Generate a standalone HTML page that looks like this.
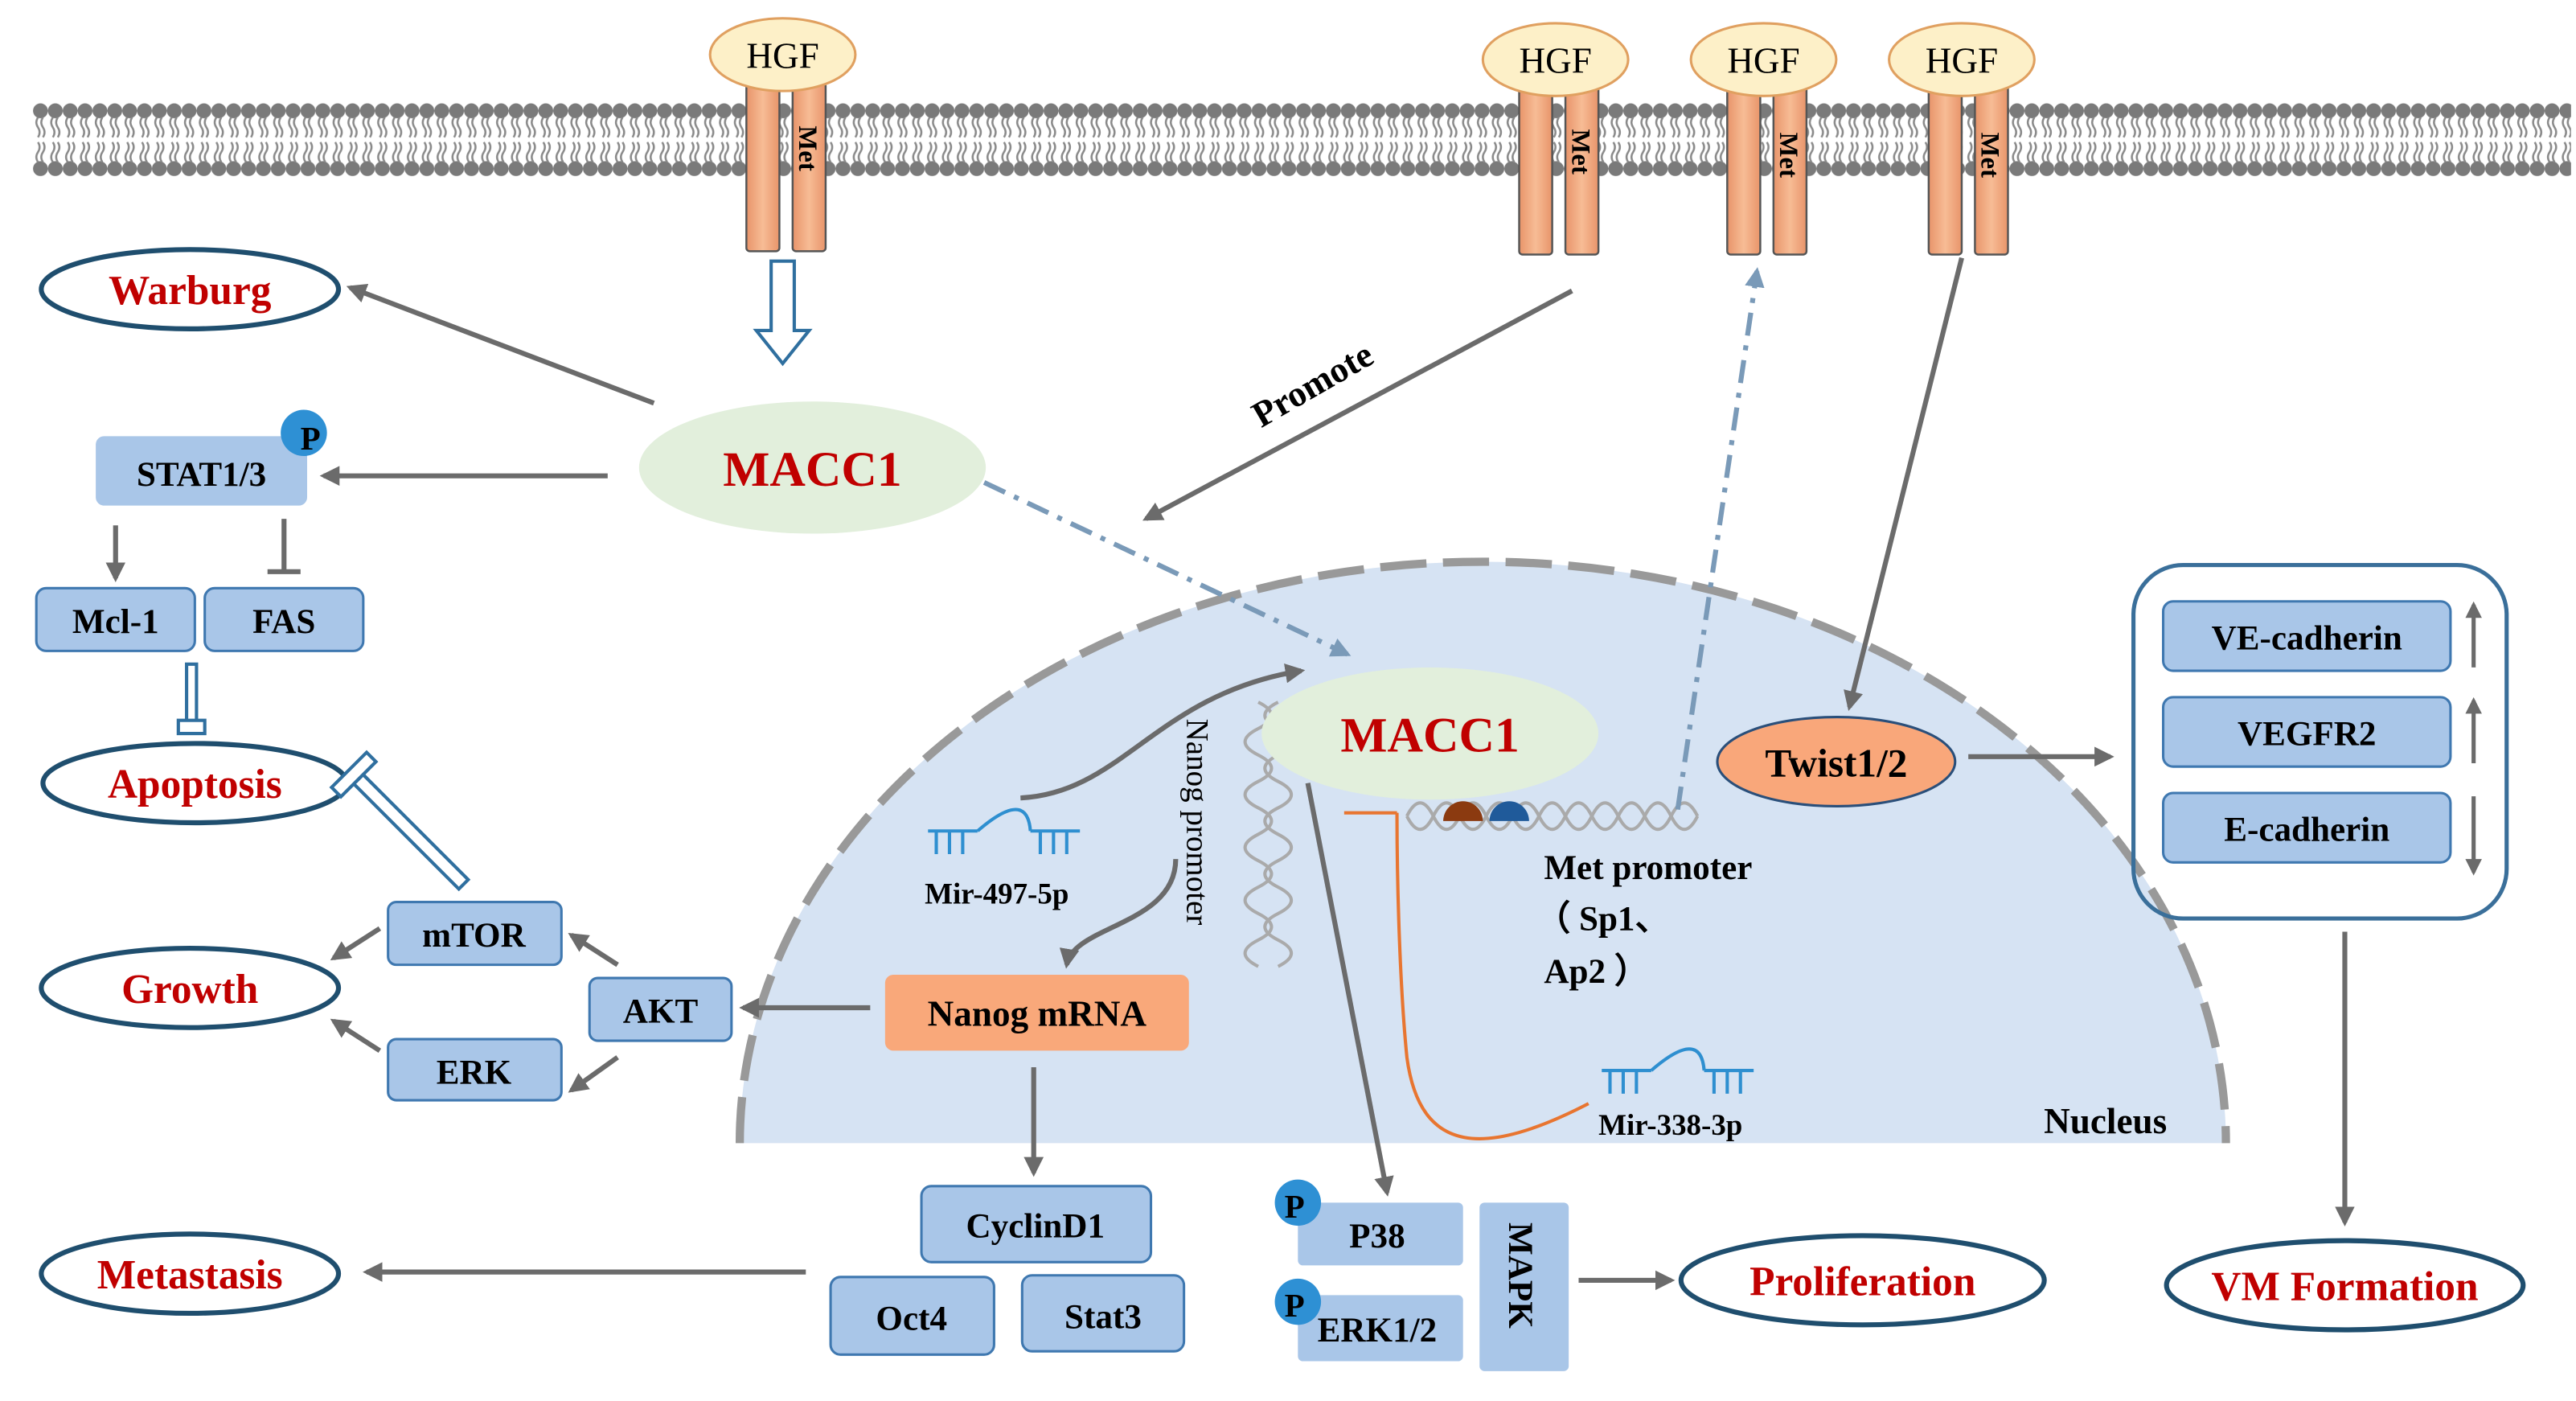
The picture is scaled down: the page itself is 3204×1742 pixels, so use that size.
<!DOCTYPE html>
<html><head><meta charset="utf-8"><style>html,body{margin:0;padding:0;background:#fff}svg{display:block}
text{font-family:"Liberation Serif",serif;font-weight:bold}</style></head><body>
<svg width="3204" height="1742" viewBox="0 0 1560 848" xmlns="http://www.w3.org/2000/svg">
<defs>
<marker id="a" viewBox="0 0 10 10" refX="8" refY="5" markerWidth="4" markerHeight="4" orient="auto"><path d="M0,0L10,5L0,10z" fill="#6b6b6b"/></marker>
<marker id="ab" viewBox="0 0 10 10" refX="8" refY="5" markerWidth="4" markerHeight="4" orient="auto"><path d="M0,0L10,5L0,10z" fill="#7a9ab8"/></marker>
<pattern id="lip" x="20" y="60" width="9" height="50" patternUnits="userSpaceOnUse">
<circle cx="4.5" cy="7" r="4.5" fill="#7a7a7a"/>
<circle cx="4.5" cy="42" r="4.5" fill="#7a7a7a"/>
<path d="M3,11 q-2,3 0,6 q2,3 0,6 M6,11 q-2,3 0,6 q2,3 0,6 M3,38 q-2,-3 0,-6 q2,-3 0,-6 M6,38 q-2,-3 0,-6 q2,-3 0,-6" stroke="#8a8a8a" stroke-width="1.2" fill="none"/>
</pattern>
<linearGradient id="met" x1="0" x2="1"><stop offset="0" stop-color="#e8946a"/><stop offset="0.5" stop-color="#f7bc95"/><stop offset="1" stop-color="#e8946a"/></linearGradient>
</defs>
<!-- membrane -->
<rect x="20" y="60" width="1537" height="50" fill="url(#lip)"/>
<!-- receptors -->
<g stroke="#555" stroke-width="1.2" fill="url(#met)">
<rect x="452" y="50" width="20" height="102" rx="2"/><rect x="480" y="50" width="20" height="102" rx="2"/>
<rect x="920" y="50" width="20" height="104" rx="2"/><rect x="948" y="50" width="20" height="104" rx="2"/>
<rect x="1046" y="52" width="20" height="102" rx="2"/><rect x="1074" y="52" width="20" height="102" rx="2"/>
<rect x="1168" y="52" width="20" height="102" rx="2"/><rect x="1196" y="52" width="20" height="102" rx="2"/>
</g>
<g fill="#fdf0c8" stroke="#e0a060" stroke-width="1.5">
<ellipse cx="474" cy="33" rx="44" ry="22"/><ellipse cx="942" cy="36" rx="44" ry="22"/>
<ellipse cx="1068" cy="36" rx="44" ry="22"/><ellipse cx="1188" cy="36" rx="44" ry="22"/>
</g>
<g font-size="22" text-anchor="middle">
<text x="474" y="41" style="font-weight:normal">HGF</text><text x="942" y="44" style="font-weight:normal">HGF</text>
<text x="1068" y="44" style="font-weight:normal">HGF</text><text x="1188" y="44" style="font-weight:normal">HGF</text>
</g>
<g font-size="16">
<text transform="translate(484,76) rotate(90)">Met</text>
<text transform="translate(952,78) rotate(90)">Met</text>
<text transform="translate(1078,80) rotate(90)">Met</text>
<text transform="translate(1200,80) rotate(90)">Met</text>
</g>
<path d="M467,158 H481 V200 H490 L474,220 L458,200 H467 Z" fill="#fff" stroke="#2f6f9f" stroke-width="2"/>
<!-- nucleus -->
<path d="M448,692 A450,352 0 0 1 1348,692 Z" fill="#d6e3f3"/>
<path d="M448,692 A450,352 0 0 1 1348,692" fill="none" stroke="#999" stroke-width="5" stroke-dasharray="28 10"/>
<text x="1275" y="686" font-size="22" text-anchor="middle">Nucleus</text>
<g fill="none" stroke="#aaa" stroke-width="2">
<path d="M762,425 q16,8 0,16 q-16,8 0,16 q16,8 0,16 q-16,8 0,16 q16,8 0,16 q-16,8 0,16 q16,8 0,16 q-16,8 0,16 q16,8 0,16 q-16,8 0,16"/>
<path d="M774,425 q-16,8 0,16 q16,8 0,16 q-16,8 0,16 q16,8 0,16 q-16,8 0,16 q16,8 0,16 q-16,8 0,16 q16,8 0,16 q-16,8 0,16 q16,8 0,16"/>
<path d="M852,494 q8,-16 16,0 q8,16 16,0 q8,-16 16,0 q8,16 16,0 q8,-16 16,0 q8,16 16,0 q8,-16 16,0 q8,16 16,0 q8,-16 16,0 q8,16 16,0 q8,-16 16,0"/>
<path d="M852,494 q8,16 16,0 q8,-16 16,0 q8,16 16,0 q8,-16 16,0 q8,16 16,0 q8,-16 16,0 q8,16 16,0 q8,-16 16,0 q8,16 16,0 q8,-16 16,0 q8,16 16,0"/>
</g>
<path d="M874,497 a12,12 0 0 1 24,0 z" fill="#8b3a10"/>
<path d="M902,497 a12,12 0 0 1 24,0 z" fill="#1f5a9a"/>
<ellipse cx="866" cy="444" rx="102" ry="40" fill="#e2efdc"/>
<text x="866" y="455" font-size="30" fill="#c00000" text-anchor="middle">MACC1</text>
<ellipse cx="492" cy="283" rx="105" ry="40" fill="#e2efdc"/>
<text x="492" y="294" font-size="30" fill="#c00000" text-anchor="middle">MACC1</text>
<g fill="#fff" stroke="#1f4e6e" stroke-width="3">
<ellipse cx="115" cy="175" rx="90" ry="24"/><ellipse cx="118" cy="474" rx="92" ry="24"/>
<ellipse cx="115" cy="598" rx="90" ry="24"/><ellipse cx="115" cy="771" rx="90" ry="24"/>
<ellipse cx="1128" cy="775" rx="110" ry="27"/><ellipse cx="1420" cy="778" rx="108" ry="27"/>
</g>
<g font-size="25" fill="#c00000" text-anchor="middle">
<text x="115" y="184">Warburg</text><text x="118" y="483">Apoptosis</text>
<text x="115" y="607">Growth</text><text x="115" y="780">Metastasis</text>
<text x="1128" y="784">Proliferation</text><text x="1420" y="787">VM Formation</text>
</g>
<g fill="#a9c6e8" stroke="#3f78b0" stroke-width="1.5">
<rect x="58" y="264" width="128" height="42" rx="5" stroke="none"/>
<rect x="22" y="356" width="96" height="38" rx="6"/><rect x="124" y="356" width="96" height="38" rx="6"/>
<rect x="235" y="546" width="105" height="38" rx="5"/><rect x="357" y="592" width="86" height="38" rx="5"/>
<rect x="235" y="629" width="105" height="37" rx="5"/>
<rect x="558" y="718" width="139" height="46" rx="6"/><rect x="503" y="773" width="99" height="47" rx="6"/>
<rect x="619" y="772" width="98" height="46" rx="6"/>
<rect x="786" y="728" width="100" height="38" rx="3" stroke="none"/><rect x="786" y="784" width="100" height="40" rx="3" stroke="none"/>
<rect x="896" y="728" width="54" height="102" rx="3" stroke="none"/>
<rect x="1310" y="364" width="174" height="42" rx="6"/><rect x="1310" y="422" width="174" height="42" rx="6"/>
<rect x="1310" y="480" width="174" height="42" rx="6"/>
</g>
<g fill="#2e90d4"><circle cx="184" cy="262" r="14"/><circle cx="786" cy="728" r="14"/><circle cx="786" cy="788" r="14"/></g>
<g font-size="21" text-anchor="middle">
<text x="188" y="272" font-size="20">P</text><text x="784" y="737" font-size="20">P</text><text x="784" y="797" font-size="20">P</text>
<text x="122" y="294">STAT1/3</text><text x="70" y="383">Mcl-1</text><text x="172" y="383">FAS</text>
<text x="287" y="573">mTOR</text><text x="400" y="619">AKT</text><text x="287" y="656">ERK</text>
<text x="627" y="749">CyclinD1</text><text x="552" y="805">Oct4</text><text x="668" y="804">Stat3</text>
<text x="834" y="755">P38</text><text x="834" y="812">ERK1/2</text>
<text x="1397" y="393">VE-cadherin</text><text x="1397" y="451">VEGFR2</text><text x="1397" y="509">E-cadherin</text>
</g>
<text transform="translate(914,740) rotate(90)" font-size="21">MAPK</text>
<rect x="536" y="590" width="184" height="46" rx="5" fill="#f9a87a"/>
<text x="628" y="621" font-size="22" text-anchor="middle">Nanog mRNA</text>
<ellipse cx="1112" cy="461" rx="72" ry="27" fill="#f9a77a" stroke="#2a4f7a" stroke-width="1.5"/>
<text x="1112" y="470" font-size="24" text-anchor="middle">Twist1/2</text>
<rect x="1292" y="342" width="226" height="214" rx="30" fill="none" stroke="#3a6f9a" stroke-width="2.5"/>
<text x="795" y="240" font-size="22" transform="rotate(-30 795 233)" text-anchor="middle">Promote</text>
<text x="935" y="532" font-size="21">Met promoter</text>
<text x="930" y="563" font-size="21">（ Sp1、</text>
<text x="935" y="595" font-size="21">Ap2 ）</text>
<text x="560" y="547" font-size="18">Mir-497-5p</text>
<text x="968" y="687" font-size="18">Mir-338-3p</text>
<text transform="translate(719,435) rotate(90)" font-size="19" style="font-weight:normal">Nanog promoter</text>
<g fill="none" stroke="#2e8fd0" stroke-width="2">
<path d="M562,503 H592 M567,503 v14 M575,503 v14 M583,503 v14 M592,503 q30,-26 32,0 M624,503 H654 M630,503 v14 M638,503 v14 M646,503 v14"/>
<path d="M970,648 H1000 M975,648 v14 M983,648 v14 M991,648 v14 M1000,648 q30,-26 32,0 M1032,648 H1062 M1038,648 v14 M1046,648 v14 M1054,648 v14"/>
</g>
<g stroke="#6b6b6b" stroke-width="3" fill="none" marker-end="url(#a)">
<line x1="396" y1="244" x2="212" y2="174"/>
<line x1="368" y1="288" x2="196" y2="288"/>
<line x1="70" y1="318" x2="70" y2="350"/>
<line x1="952" y1="176" x2="694" y2="314"/>
<line x1="1188" y1="156" x2="1120" y2="428"/>
<line x1="1192" y1="458" x2="1278" y2="458"/>
<line x1="1420" y1="564" x2="1420" y2="740"/>
<line x1="527" y1="610" x2="450" y2="610"/>
<line x1="374" y1="584" x2="346" y2="566"/>
<line x1="374" y1="640" x2="346" y2="660"/>
<line x1="230" y1="562" x2="202" y2="580"/>
<line x1="230" y1="636" x2="202" y2="618"/>
<line x1="488" y1="770" x2="222" y2="770"/>
<line x1="626" y1="646" x2="626" y2="710"/>
<line x1="792" y1="474" x2="840" y2="722"/>
<line x1="956" y1="775" x2="1012" y2="775"/>
<path d="M618,483 C680,480 700,420 788,406"/>
<path d="M712,520 C712,560 650,560 646,584"/>
</g>
<g stroke="#6b6b6b" stroke-width="2.5" fill="none" marker-end="url(#a)">
<line x1="1498" y1="404" x2="1498" y2="366"/>
<line x1="1498" y1="462" x2="1498" y2="424"/>
<line x1="1498" y1="482" x2="1498" y2="528"/>
</g>
<path d="M172,314 V346 M162,346 H182" stroke="#6b6b6b" stroke-width="3"/>
<path d="M108,436 H124 V444 H108 Z M113,402 H119 V436 H113 Z" fill="none" stroke="#2f6f9f" stroke-width="2"/>
<g transform="translate(280,536) rotate(-45)" fill="#fff" stroke="#2f6f9f" stroke-width="2">
<rect x="-3" y="-90" width="8" height="90"/><rect x="-14" y="-98" width="30" height="8"/>
</g>
<g stroke="#7a9ab8" stroke-width="3" fill="none" stroke-dasharray="14 6 3 6" marker-end="url(#ab)">
<line x1="596" y1="292" x2="816" y2="396"/>
<line x1="1016" y1="490" x2="1064" y2="164"/>
</g>
<path d="M962,668 C900,700 860,700 852,640 C848,600 846,540 846,492 M814,492 H846" fill="none" stroke="#e87530" stroke-width="2"/>
</svg>
</body></html>
